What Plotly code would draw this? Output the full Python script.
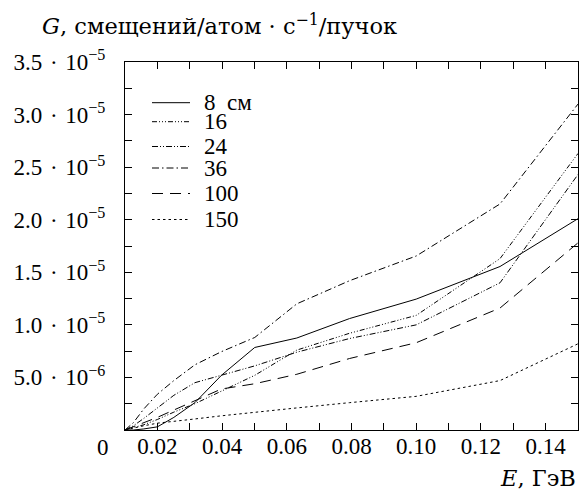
import plotly.graph_objects as go

# ---- data (G in units of 1e-5 displacements/atom/s/beam) ----
E_GeV = [0.01, 0.0126, 0.0158, 0.02, 0.0251, 0.0316, 0.0398, 0.0501, 0.0631, 0.0794, 0.1, 0.1259, 0.15]
G_UNIT = 1e-5
g_8cm = [0.0, 0.0, 0.01, 0.03, 0.12, 0.26, 0.52, 0.785, 0.875, 1.06, 1.245, 1.555, 2.01]
g_16 = [0.0, 0.02, 0.05, 0.10, 0.17, 0.25, 0.37, 0.52, 0.76, 0.92, 1.09, 1.63, 2.63]
g_24 = [0.0, 0.04, 0.11, 0.21, 0.33, 0.45, 0.52, 0.61, 0.74, 0.87, 1.00, 1.40, 2.43]
g_36 = [0.0, 0.07, 0.20, 0.34, 0.47, 0.62, 0.745, 0.88, 1.20, 1.42, 1.655, 2.15, 3.10]
g_100 = [0.0, 0.03, 0.07, 0.12, 0.19, 0.28, 0.39, 0.44, 0.53, 0.68, 0.83, 1.16, 1.78]
g_150 = [0.0, 0.02, 0.04, 0.065, 0.085, 0.105, 0.135, 0.17, 0.21, 0.26, 0.32, 0.47, 0.82]

series_names = ["8\u2002см", "16", "24", "36", "100", "150"]
series_vals = [g_8cm, g_16, g_24, g_36, g_100, g_150]

x_tickvals = [0.02, 0.04, 0.06, 0.08, 0.10, 0.12, 0.14]
x_ticktext = ["0.02", "0.04", "0.06", "0.08", "0.10", "0.12", "0.14"]
y_tickvals = [5e-6, 1e-5, 1.5e-5, 2e-5, 2.5e-5, 3e-5, 3.5e-5]
y_mant = ["5.0", "1.0", "1.5", "2.0", "2.5", "3.0", "3.5"]
y_exp = ["−6", "−5", "−5", "−5", "−5", "−5", "−5"]
y_ticktext = [f"{m}\u2004·\u200410<sup>{e}</sup>" for m, e in zip(y_mant, y_exp)]

# ---- styles ----
dashes = ["solid", "5px,2px,1px,2px,1px,2px,1px,2px", "6px,2px,1px,2px,1px,2px",
          "7px,3px,1.5px,3px", "11px,7px", "2.5px,3px"]
FONT = "Liberation Serif"
TFONT = "DejaVu Serif"
FS = 23
TFS = 22.5

FIG_W, FIG_H = 580, 491
# plot-area edges in pixels
L, R, T, B = 125, 578, 62, 430
W, H = R - L, B - T

fig = go.Figure()
for name, vals, dash in zip(series_names, series_vals, dashes):
    fig.add_trace(go.Scatter(x=E_GeV, y=[v * G_UNIT for v in vals], mode="lines",
                             name=name, showlegend=False,
                             line=dict(color="black", width=1, dash=dash)))

# manual legend (line samples + labels), positioned in paper coords
legend_rows_px = [102.7, 121.7, 146.5, 168.0, 193.5, 219.5]
shapes = []
annotations = []
for name, dash, py in zip(series_names, dashes, legend_rows_px):
    yp = (B - py) / H
    shapes.append(dict(type="line", xref="paper", yref="paper",
                       x0=(152 - L) / W, x1=(190 - L) / W, y0=yp, y1=yp,
                       line=dict(color="black", width=1, dash=dash)))
    annotations.append(dict(text=name, xref="paper", yref="paper",
                            x=(202 - L) / W, y=yp, xanchor="left", yanchor="middle",
                            showarrow=False, font=dict(family=FONT, size=FS, color="black")))

annotations.append(dict(text="<i>G</i>, смещений/атом · с<sup>−1</sup>/пучок",
                        xref="paper", yref="paper", x=(40 - L) / W, y=(B - 24) / H,
                        xanchor="left", yanchor="middle", showarrow=False,
                        font=dict(family=TFONT, size=TFS, color="black")))
annotations.append(dict(text="<i>E</i>, ГэВ", xref="paper", yref="paper",
                        x=1.0, y=(B - 478) / H, xanchor="right", yanchor="middle",
                        showarrow=False, font=dict(family=TFONT, size=TFS, color="black")))
annotations.append(dict(text="0", xref="paper", yref="paper",
                        x=(103 - L) / W, y=(B - 447) / H, xanchor="center", yanchor="middle",
                        showarrow=False, font=dict(family=FONT, size=FS, color="black")))

axis_common = dict(showline=True, linecolor="black", linewidth=1, mirror="allticks",
                   ticks="inside", ticklen=7, tickcolor="black", tickwidth=1,
                   showgrid=False, zeroline=False,
                   tickfont=dict(family=FONT, size=FS, color="black"))

fig.update_layout(
    width=FIG_W, height=FIG_H,
    margin=dict(l=L, r=FIG_W - R, t=T, b=FIG_H - B),
    paper_bgcolor="white", plot_bgcolor="white",
    font=dict(family=FONT, size=FS, color="black"),
    xaxis=dict(range=[0.01, 0.15], tickvals=x_tickvals, ticktext=x_ticktext,
               ticklabelstandoff=-5,
               minor=dict(tickvals=[0.01, 0.03, 0.05, 0.07, 0.09, 0.11, 0.13, 0.15],
                          ticks="inside", ticklen=7, tickcolor="black"),
               **axis_common),
    yaxis=dict(range=[0, 3.5e-5], tickvals=y_tickvals, ticktext=y_ticktext,
               ticklabelstandoff=14,
               minor=dict(tickvals=[2.5e-6, 7.5e-6, 1.25e-5, 1.75e-5, 2.25e-5, 2.75e-5, 3.25e-5],
                          ticks="inside", ticklen=7, tickcolor="black"),
               **axis_common),
    shapes=shapes,
    annotations=annotations,
)

fig.write_html("out.html", config={"displayModeBar": False},
               post_script="document.body.style.margin='0px';"
                           "document.body.style.overflow='hidden';")
